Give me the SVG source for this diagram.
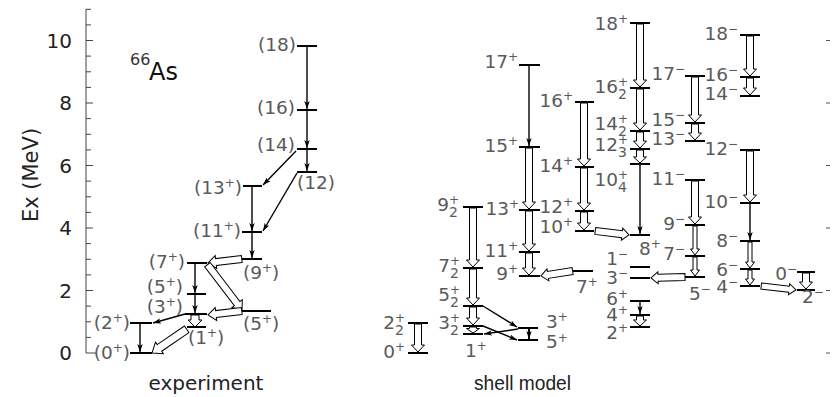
<svg xmlns="http://www.w3.org/2000/svg" width="836" height="397" viewBox="0 0 836 397">
<style>
.lv{stroke:#000;stroke-width:2}
.ar{stroke:#000;stroke-width:1.4;fill:none;marker-end:url(#ah)}
.ha{fill:#fff;stroke:#000;stroke-width:1}
.lb{font-family:"DejaVu Sans",sans-serif;font-size:18.5px;fill:#5a5a5a}
.e{text-anchor:end}
.ax{font-family:"DejaVu Sans",sans-serif;font-size:20px;fill:#222}
.tk{stroke:#444;stroke-width:1;fill:none}
</style>
<defs>
<marker id="ah" markerUnits="userSpaceOnUse" markerWidth="8" markerHeight="6" refX="8" refY="3" orient="auto">
<path d="M0,0.3 L8,3 L0,5.7 L2,3 z" fill="#000"/>
</marker>
</defs>
<g id="axis">
<path class="tk" d="M86,9 V353 H96"/>
<path class="tk" d="M86,9.3h5M86,24.9h5M86,40.5h7M86,56.1h5M86,71.8h5M86,87.4h5M86,103h7M86,118.6h5M86,134.3h5M86,149.9h5M86,165.5h7M86,181.1h5M86,196.8h5M86,212.4h5M86,228h7M86,243.6h5M86,259.3h5M86,274.9h5M86,290.5h7M86,306.1h5M86,321.8h5M86,337.4h5"/>
<g class="ax">
<text x="72" y="48" text-anchor="end">10</text>
<text x="72" y="110" text-anchor="end">8</text>
<text x="72" y="173" text-anchor="end">6</text>
<text x="72" y="235" text-anchor="end">4</text>
<text x="72" y="298" text-anchor="end">2</text>
<text x="72" y="360" text-anchor="end">0</text>
<text transform="translate(38,175) rotate(-90)" text-anchor="middle" font-size="21">Ex (MeV)</text>
<text x="206" y="390" text-anchor="middle">experiment</text>
<text x="474" y="390" font-family="Liberation Sans,sans-serif" font-size="20.5" textLength="97" lengthAdjust="spacingAndGlyphs">shell model</text>
</g>
<text x="130" y="65" font-family="DejaVu Sans,sans-serif" font-size="16" fill="#333">66</text>
<text x="149" y="80" font-family="DejaVu Sans,sans-serif" font-size="24" fill="#111">As</text>
<path stroke="#555" stroke-width="1" d="M826,40.5h4M826,103h4M826,165.5h4M826,228h4M826,290.5h4M826,353h4"/>
</g>

<g id="experiment-levels">
<g id="e0"><line class="lv" x1="130" y1="353" x2="152" y2="353"/><text class="lb e" x="130" y="359">(0<tspan dy="-7" font-size="12">+</tspan><tspan dy="7">)</tspan></text></g>
<g id="e2"><line class="lv" x1="130" y1="323" x2="152" y2="323"/><text class="lb e" x="130" y="329">(2<tspan dy="-7" font-size="12">+</tspan><tspan dy="7">)</tspan></text></g>
<g id="e1"><line class="lv" x1="187" y1="327" x2="206" y2="327"/><text class="lb" x="188" y="344">(1<tspan dy="-7" font-size="12">+</tspan><tspan dy="7">)</tspan></text></g>
<g id="e3"><line class="lv" x1="185" y1="314" x2="207" y2="314"/><text class="lb e" x="183" y="313">(3<tspan dy="-7" font-size="12">+</tspan><tspan dy="7">)</tspan></text></g>
<g id="e5a"><line class="lv" x1="187" y1="294" x2="206" y2="294"/><text class="lb e" x="183" y="293">(5<tspan dy="-7" font-size="12">+</tspan><tspan dy="7">)</tspan></text></g>
<g id="e7"><line class="lv" x1="187" y1="263" x2="207" y2="263"/><text class="lb e" x="185" y="268">(7<tspan dy="-7" font-size="12">+</tspan><tspan dy="7">)</tspan></text></g>
<g id="e9"><line class="lv" x1="242" y1="259" x2="262" y2="259"/><text class="lb" x="243" y="279">(9<tspan dy="-7" font-size="12">+</tspan><tspan dy="7">)</tspan></text></g>
<g id="e5b"><line class="lv" x1="242" y1="311" x2="271" y2="311"/><text class="lb" x="243" y="330">(5<tspan dy="-7" font-size="12">+</tspan><tspan dy="7">)</tspan></text></g>
<g id="e11"><line class="lv" x1="242" y1="232" x2="262" y2="232"/><text class="lb e" x="241" y="237">(11<tspan dy="-7" font-size="12">+</tspan><tspan dy="7">)</tspan></text></g>
<g id="e13"><line class="lv" x1="243" y1="186" x2="262" y2="186"/><text class="lb e" x="242" y="194">(13<tspan dy="-7" font-size="12">+</tspan><tspan dy="7">)</tspan></text></g>
<g id="e12"><line class="lv" x1="297" y1="172" x2="317" y2="172"/><text class="lb" x="297" y="189">(12)</text></g>
<g id="e14"><line class="lv" x1="297" y1="149" x2="317" y2="149"/><text class="lb e" x="295" y="151">(14)</text></g>
<g id="e16"><line class="lv" x1="297" y1="110" x2="317" y2="110"/><text class="lb e" x="295" y="114">(16)</text></g>
<g id="e18"><line class="lv" x1="297" y1="46" x2="317" y2="46"/><text class="lb e" x="296" y="51">(18)</text></g>
</g>

<g id="shell-levels">
<g id="s2b"><line class="lv" x1="408" y1="323" x2="428" y2="323"/><text class="lb e" x="405" y="329">2<tspan dy="-7" font-size="12">+</tspan><tspan dx="-10" dy="13" font-size="14">2</tspan></text></g>
<g id="s0"><line class="lv" x1="408" y1="353" x2="428" y2="353"/><text class="lb e" x="405" y="358">0<tspan dy="-7" font-size="12">+</tspan></text></g>
<g id="s9b"><line class="lv" x1="463" y1="207" x2="483" y2="207"/><text class="lb e" x="459" y="211">9<tspan dy="-7" font-size="12">+</tspan><tspan dx="-10" dy="13" font-size="14">2</tspan></text></g>
<g id="s7b"><line class="lv" x1="463" y1="268" x2="483" y2="268"/><text class="lb e" x="460" y="272">7<tspan dy="-7" font-size="12">+</tspan><tspan dx="-10" dy="13" font-size="14">2</tspan></text></g>
<g id="s5b"><line class="lv" x1="463" y1="306" x2="483" y2="306"/><text class="lb e" x="460" y="301">5<tspan dy="-7" font-size="12">+</tspan><tspan dx="-10" dy="13" font-size="14">2</tspan></text></g>
<g id="s3b"><line class="lv" x1="463" y1="326" x2="483" y2="326"/><text class="lb e" x="460" y="329">3<tspan dy="-7" font-size="12">+</tspan><tspan dx="-10" dy="13" font-size="14">2</tspan></text></g>
<g id="s1"><line class="lv" x1="463" y1="334" x2="483" y2="334"/><text class="lb" x="465" y="357">1<tspan dy="-7" font-size="12">+</tspan></text></g>
<g id="s3"><line class="lv" x1="518" y1="328" x2="538" y2="328"/><text class="lb" x="546" y="328">3<tspan dy="-7" font-size="12">+</tspan></text></g>
<g id="s5"><line class="lv" x1="518" y1="340" x2="538" y2="340"/><text class="lb" x="546" y="348">5<tspan dy="-6" font-size="12">+</tspan></text></g>
<g id="s17"><line class="lv" x1="519" y1="65" x2="540" y2="65"/><text class="lb e" x="518" y="68">17<tspan dy="-7" font-size="12">+</tspan></text></g>
<g id="s15"><line class="lv" x1="519" y1="147" x2="540" y2="147"/><text class="lb e" x="518" y="152">15<tspan dy="-7" font-size="12">+</tspan></text></g>
<g id="s13"><line class="lv" x1="519" y1="210" x2="540" y2="210"/><text class="lb e" x="519" y="215">13<tspan dy="-7" font-size="12">+</tspan></text></g>
<g id="s11"><line class="lv" x1="519" y1="252" x2="540" y2="252"/><text class="lb e" x="518" y="257">11<tspan dy="-7" font-size="12">+</tspan></text></g>
<g id="s9"><line class="lv" x1="519" y1="276" x2="540" y2="276"/><text class="lb e" x="518" y="280">9<tspan dy="-7" font-size="12">+</tspan></text></g>
<g id="s16"><line class="lv" x1="575" y1="102" x2="594" y2="102"/><text class="lb e" x="573" y="107">16<tspan dy="-7" font-size="12">+</tspan></text></g>
<g id="s14"><line class="lv" x1="575" y1="167" x2="594" y2="167"/><text class="lb e" x="573" y="172">14<tspan dy="-7" font-size="12">+</tspan></text></g>
<g id="s12"><line class="lv" x1="575" y1="211" x2="594" y2="211"/><text class="lb e" x="573" y="213">12<tspan dy="-7" font-size="12">+</tspan></text></g>
<g id="s10"><line class="lv" x1="575" y1="231" x2="594" y2="231"/><text class="lb e" x="573" y="233">10<tspan dy="-7" font-size="12">+</tspan></text></g>
<g id="s7"><line class="lv" x1="573" y1="271" x2="593" y2="271"/><text class="lb" x="576" y="293">7<tspan dy="-7" font-size="12">+</tspan></text></g>
<g id="s18"><line class="lv" x1="630" y1="23" x2="650" y2="23"/><text class="lb e" x="628" y="30">18<tspan dy="-7" font-size="12">+</tspan></text></g>
<g id="s16b"><line class="lv" x1="630" y1="88" x2="650" y2="88"/><text class="lb e" x="628" y="93">16<tspan dy="-7" font-size="12">+</tspan><tspan dx="-10" dy="13" font-size="14">2</tspan></text></g>
<g id="s14b"><line class="lv" x1="630" y1="131" x2="650" y2="131"/><text class="lb e" x="628" y="130">14<tspan dy="-7" font-size="12">+</tspan><tspan dx="-10" dy="13" font-size="14">2</tspan></text></g>
<g id="s12c"><line class="lv" x1="630" y1="149" x2="650" y2="149"/><text class="lb e" x="628" y="151">12<tspan dy="-7" font-size="12">+</tspan><tspan dx="-10" dy="13" font-size="14">3</tspan></text></g>
<g id="s10d"><line class="lv" x1="630" y1="164" x2="650" y2="164"/><text class="lb e" x="628" y="186">10<tspan dy="-7" font-size="12">+</tspan><tspan dx="-10" dy="13" font-size="14">4</tspan></text></g>
<g id="s8"><line class="lv" x1="630" y1="235" x2="650" y2="235"/><text class="lb" x="639" y="255">8<tspan dy="-7" font-size="12">+</tspan></text></g>
<g id="s1m"><line class="lv" x1="630" y1="267" x2="650" y2="267"/><text class="lb e" x="628" y="265">1<tspan dy="-7" font-size="12">−</tspan></text></g>
<g id="s3m"><line class="lv" x1="630" y1="278" x2="650" y2="278"/><text class="lb e" x="628" y="284">3<tspan dy="-7" font-size="12">−</tspan></text></g>
<g id="s6"><line class="lv" x1="630" y1="301" x2="650" y2="301"/><text class="lb e" x="628" y="305">6<tspan dy="-7" font-size="12">+</tspan></text></g>
<g id="s4"><line class="lv" x1="630" y1="315" x2="650" y2="315"/><text class="lb e" x="628" y="321">4<tspan dy="-7" font-size="12">+</tspan></text></g>
<g id="s2"><line class="lv" x1="630" y1="327" x2="650" y2="327"/><text class="lb e" x="628" y="339">2<tspan dy="-7" font-size="12">+</tspan></text></g>
<g id="s17m"><line class="lv" x1="685" y1="76" x2="705" y2="76"/><text class="lb e" x="685" y="80">17<tspan dy="-7" font-size="12">−</tspan></text></g>
<g id="s15m"><line class="lv" x1="685" y1="123" x2="705" y2="123"/><text class="lb e" x="685" y="126">15<tspan dy="-7" font-size="12">−</tspan></text></g>
<g id="s13m"><line class="lv" x1="685" y1="141" x2="705" y2="141"/><text class="lb e" x="685" y="145">13<tspan dy="-7" font-size="12">−</tspan></text></g>
<g id="s11m"><line class="lv" x1="685" y1="180" x2="705" y2="180"/><text class="lb e" x="685" y="185">11<tspan dy="-7" font-size="12">−</tspan></text></g>
<g id="s9m"><line class="lv" x1="685" y1="225" x2="705" y2="225"/><text class="lb e" x="685" y="230">9<tspan dy="-7" font-size="12">−</tspan></text></g>
<g id="s7m"><line class="lv" x1="685" y1="256" x2="705" y2="256"/><text class="lb e" x="685" y="260">7<tspan dy="-7" font-size="12">−</tspan></text></g>
<g id="s5m"><line class="lv" x1="685" y1="277" x2="705" y2="277"/><text class="lb" x="689" y="300">5<tspan dy="-7" font-size="12">−</tspan></text></g>
<g id="s18m"><line class="lv" x1="740" y1="35" x2="760" y2="35"/><text class="lb e" x="738" y="40">18<tspan dy="-7" font-size="12">−</tspan></text></g>
<g id="s16m"><line class="lv" x1="740" y1="77" x2="760" y2="77"/><text class="lb e" x="738" y="81">16<tspan dy="-7" font-size="12">−</tspan></text></g>
<g id="s14m"><line class="lv" x1="740" y1="96" x2="760" y2="96"/><text class="lb e" x="738" y="100">14<tspan dy="-7" font-size="12">−</tspan></text></g>
<g id="s12m"><line class="lv" x1="740" y1="150" x2="760" y2="150"/><text class="lb e" x="738" y="155">12<tspan dy="-7" font-size="12">−</tspan></text></g>
<g id="s10m"><line class="lv" x1="740" y1="203" x2="760" y2="203"/><text class="lb e" x="738" y="208">10<tspan dy="-7" font-size="12">−</tspan></text></g>
<g id="s8m"><line class="lv" x1="740" y1="241" x2="760" y2="241"/><text class="lb e" x="738" y="247">8<tspan dy="-7" font-size="12">−</tspan></text></g>
<g id="s6m"><line class="lv" x1="740" y1="269" x2="760" y2="269"/><text class="lb e" x="738" y="276">6<tspan dy="-7" font-size="12">−</tspan></text></g>
<g id="s4m"><line class="lv" x1="740" y1="286" x2="760" y2="286"/><text class="lb e" x="738" y="293">4<tspan dy="-7" font-size="12">−</tspan></text></g>
<g id="s0m"><line class="lv" x1="797" y1="272" x2="815" y2="272"/><text class="lb e" x="797" y="280">0<tspan dy="-7" font-size="12">−</tspan></text></g>
<g id="s2m"><line class="lv" x1="797" y1="290" x2="815" y2="290"/><text class="lb" x="802" y="303">2<tspan dy="-7" font-size="12">−</tspan></text></g>
</g>

<g id="connectors">
<line class="ar" x1="140" y1="324" x2="140" y2="352"/>
<line class="ar" x1="195" y1="264" x2="195" y2="293"/>
<line class="ar" x1="195" y1="295" x2="195" y2="313"/>
<line class="ar" x1="185" y1="314" x2="153" y2="323"/>
<line class="ar" x1="252" y1="233" x2="252" y2="258"/>
<line class="ar" x1="252" y1="187" x2="252" y2="231"/>
<line class="ar" x1="297" y1="173" x2="263" y2="231"/>
<line class="ar" x1="296" y1="151" x2="263" y2="185"/>
<line class="ar" x1="307" y1="47" x2="307" y2="109"/>
<line class="ar" x1="307" y1="111" x2="307" y2="148"/>
<line class="ar" x1="307" y1="150" x2="307" y2="171"/>
<polygon class="ha" points="191,315 199,315 199,320 202,320 195,327 188,320 191,320"/>
<polygon class="ha" transform="translate(152,353) rotate(145.6)" points="-42,-4 -9,-4 -9,-7 0,0 -9,7 -9,4 -42,4"/>
<polygon class="ha" transform="translate(208,263) rotate(173.3)" points="-34,-3.5 -8,-3.5 -8,-6.5 0,0 -8,6.5 -8,3.5 -34,3.5"/>
<polygon class="ha" transform="translate(242,310) rotate(52.7)" points="-57,-3.5 -8,-3.5 -8,-6.5 0,0 -8,6.5 -8,3.5 -57,3.5"/>
<polygon class="ha" transform="translate(208,315) rotate(173.3)" points="-34,-3.5 -8,-3.5 -8,-6.5 0,0 -8,6.5 -8,3.5 -34,3.5"/>
<line class="ar" x1="529" y1="66" x2="529" y2="146"/>
<line class="ar" x1="529" y1="329" x2="529" y2="339" style="stroke-width:2"/>
<line class="ar" x1="483" y1="306" x2="517" y2="327"/>
<line class="ar" x1="483" y1="326" x2="517" y2="340"/>
<line class="ar" x1="518" y1="329" x2="484" y2="334"/>
<line class="ar" x1="640" y1="165" x2="640" y2="234"/>
<line class="ar" x1="640" y1="302" x2="640" y2="314"/>
<line class="ar" x1="750" y1="204" x2="750" y2="240"/>
<polygon class="ha" points="414.5,324 421.5,324 421.5,345 424.5,345 418,352 411.5,345 414.5,345"/>
<polygon class="ha" points="469.5,208 476.5,208 476.5,260 479.5,260 473,267 466.5,260 469.5,260"/>
<polygon class="ha" points="469.5,269 476.5,269 476.5,298 479.5,298 473,305 466.5,298 469.5,298"/>
<polygon class="ha" points="469.5,307 476.5,307 476.5,318 479.5,318 473,325 466.5,318 469.5,318"/>
<polygon class="ha" points="469.5,327 476.5,327 476.5,328.5 479.5,328.5 473,333 466.5,328.5 469.5,328.5"/>
<polygon class="ha" points="525.5,148 532.5,148 532.5,202 535.5,202 529,209 522.5,202 525.5,202"/>
<polygon class="ha" points="525.5,211 532.5,211 532.5,244 535.5,244 529,251 522.5,244 525.5,244"/>
<polygon class="ha" points="525.5,253 532.5,253 532.5,268 535.5,268 529,275 522.5,268 525.5,268"/>
<polygon class="ha" points="580.5,103 587.5,103 587.5,159 590.5,159 584,166 577.5,159 580.5,159"/>
<polygon class="ha" points="580.5,168 587.5,168 587.5,203 590.5,203 584,210 577.5,203 580.5,203"/>
<polygon class="ha" points="580.5,212 587.5,212 587.5,223 590.5,223 584,230 577.5,223 580.5,223"/>
<polygon class="ha" points="636.5,24 643.5,24 643.5,80 646.5,80 640,87 633.5,80 636.5,80"/>
<polygon class="ha" points="636.5,89 643.5,89 643.5,123 646.5,123 640,130 633.5,123 636.5,123"/>
<polygon class="ha" points="636.5,132 643.5,132 643.5,141 646.5,141 640,148 633.5,141 636.5,141"/>
<polygon class="ha" points="636.5,150 643.5,150 643.5,157 646.5,157 640,163 633.5,157 636.5,157"/>
<polygon class="ha" points="636.5,316 643.5,316 643.5,320 646.5,320 640,326 633.5,320 636.5,320"/>
<polygon class="ha" points="691.5,77 698.5,77 698.5,115 701.5,115 695,122 688.5,115 691.5,115"/>
<polygon class="ha" points="691.5,124 698.5,124 698.5,133 701.5,133 695,140 688.5,133 691.5,133"/>
<polygon class="ha" points="691.5,181 698.5,181 698.5,217 701.5,217 695,224 688.5,217 691.5,217"/>
<polygon class="ha" points="693,226 697,226 697,249 699.5,249 695,255 690.5,249 693,249"/>
<polygon class="ha" points="693,257 697,257 697,270 699.5,270 695,276 690.5,270 693,270"/>
<polygon class="ha" points="746.5,36 753.5,36 753.5,69 756.5,69 750,76 743.5,69 746.5,69"/>
<polygon class="ha" points="746.5,78 753.5,78 753.5,88 756.5,88 750,95 743.5,88 746.5,88"/>
<polygon class="ha" points="746.5,151 753.5,151 753.5,195 756.5,195 750,202 743.5,195 746.5,195"/>
<polygon class="ha" points="748,242 752,242 752,262 754.5,262 750,268 745.5,262 748,262"/>
<polygon class="ha" points="748,270 752,270 752,279 754.5,279 750,285 745.5,279 748,279"/>
<polygon class="ha" points="802.5,273 809.5,273 809.5,282 812.5,282 806,289 799.5,282 802.5,282"/>
<polygon class="ha" transform="translate(629,235) rotate(6.9)" points="-34,-3.5 -7,-3.5 -7,-6 0,0 -7,6 -7,3.5 -34,3.5"/>
<polygon class="ha" transform="translate(541,276) rotate(171.1)" points="-32,-3.5 -7,-3.5 -7,-6 0,0 -7,6 -7,3.5 -32,3.5"/>
<polygon class="ha" transform="translate(651,278) rotate(178.3)" points="-34,-3.5 -7,-3.5 -7,-6 0,0 -7,6 -7,3.5 -34,3.5"/>
<polygon class="ha" transform="translate(796,290) rotate(6.5)" points="-35,-3 -7,-3 -7,-5.5 0,0 -7,5.5 -7,3 -35,3"/>
</g>
</svg>
